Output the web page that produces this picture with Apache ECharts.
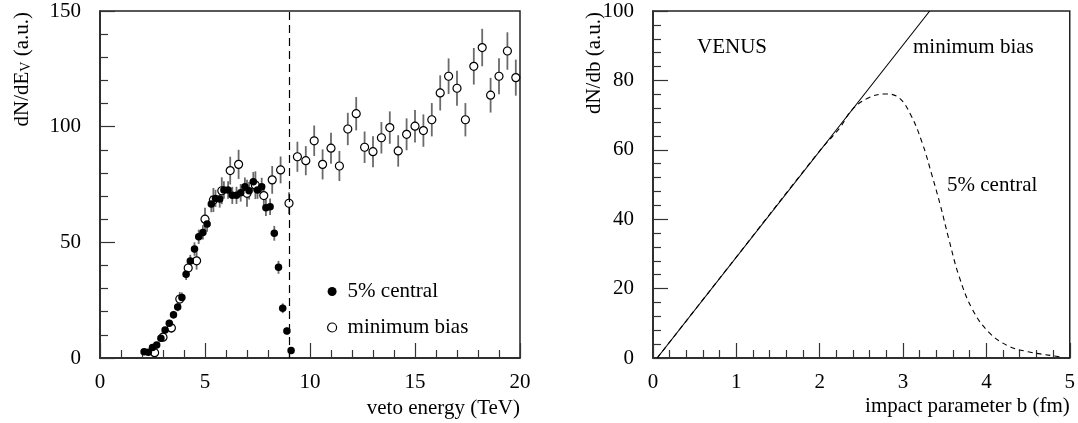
<!DOCTYPE html>
<html><head><meta charset="utf-8">
<script src="https://cdn.jsdelivr.net/npm/echarts@6/dist/echarts.min.js"></script>
<style>html,body{margin:0;padding:0;background:#fff;}#c{width:1078px;height:423px;}</style>
</head><body><div id="c"></div>
<script>
// ---- Left panel data: veto energy spectra ----
const centralE = [2.1,2.3,2.5,2.7,2.9,3.1,3.3,3.5,3.7,3.9,4.1,4.3,4.5,4.7,4.9,5.1,5.3,5.5,5.7,5.9,6.1,6.3,6.5,6.7,6.9,7.1,7.3,7.5,7.7,7.9,8.1,8.3,8.5,8.7,8.9,9.1];
const centralV = [2.7,2.5,4.5,5.6,8.5,12.1,15.0,18.7,22.1,26.2,36.2,41.9,47.1,52.4,54.3,57.9,66.6,69.0,68.7,72.6,72.6,70.3,70.3,71.4,74.0,72.3,76.2,72.6,74.0,65.0,65.4,53.9,39.2,21.5,11.7,3.2];
const centralErr = [0.6,0.6,0.8,0.9,1.1,1.3,1.5,1.7,1.9,2.1,2.5,2.7,2.9,3.1,3.1,3.3,3.6,3.7,3.7,3.8,3.8,3.7,3.7,3.8,4.0,3.8,4.2,3.8,3.9,3.6,3.6,3.2,2.8,2.1,1.5,0.8];

const minBiasE = [2.6,3.0,3.4,3.8,4.2,4.6,5.0,5.4,5.8,6.2,6.6,7.0,7.4,7.8,8.2,8.6,9.0,9.4,9.8,10.2,10.6,11.0,11.4,11.8,12.2,12.6,13.0,13.4,13.8,14.2,14.6,15.0,15.4,15.8,16.2,16.6,17.0,17.4,17.8,18.2,18.6,19.0,19.4,19.8];
const minBiasV = [2.3,9.0,13.0,25.5,38.9,42.0,60.0,68.3,72.3,81.0,83.7,71.2,74.7,70.2,77.0,81.3,66.9,87.0,85.3,93.9,83.7,90.7,83.0,99.0,105.6,91.1,89.2,95.2,99.6,89.5,96.7,100.2,98.3,103.0,114.6,121.8,116.6,103.0,126.1,134.2,113.6,121.8,132.7,121.2];
const minBiasErr = [1.0,1.8,2.2,3.0,3.6,3.8,5.0,5.2,5.8,6.0,6.3,5.8,6.0,5.0,6.0,5.8,4.7,6.5,6.3,6.6,6.5,6.7,6.5,7.0,7.2,6.8,6.7,6.8,7.0,6.8,6.9,7.0,7.0,7.2,7.6,7.7,7.6,7.2,7.9,8.1,7.5,7.8,8.1,7.8];

const cutEnergy = 9;
const leftXTicks = [0, 20, 5];   // min, max, interval
const leftYTicks = [0, 150, 50];

// ---- Right panel data: VENUS impact-parameter distributions ----
const mbB = [0.05, 3.32];
const mbY = [0, 100];
const cenB = [0.05,1.0,2.0,2.24,2.39,2.59,2.79,2.95,3.09,3.23,3.35,3.45,3.55,3.67,3.83,4.03,4.26,4.5,4.78,4.9];
const cenY = [0,29.1,59.7,66.3,71.6,75.0,76.1,75.0,70.2,62.0,52.4,43.8,34.2,23.7,14.1,7.4,3.5,1.8,0.7,0.3];
const rightXTicks = [0, 5, 1];
const rightYTicks = [0, 100, 20];

const FONT = 'Liberation Serif';
const chart = echarts.init(document.getElementById('c'), null, {renderer: 'canvas'});

function zip(a, b, c) { return a.map((v, i) => c ? [v, b[i], c[i]] : [v, b[i]]); }

function errBars(xi, yi, data) {
  return {
    type: 'custom', xAxisIndex: xi, yAxisIndex: yi, z: 1, silent: true,
    data: data,
    renderItem: function (params, api) {
      const x = api.value(0), y = api.value(1), e = api.value(2);
      const p1 = api.coord([x, y + e]);
      const p2 = api.coord([x, Math.max(0, y - e)]);
      return {type: 'line', shape: {x1: p1[0], y1: p1[1], x2: p2[0], y2: p2[1]},
              style: {stroke: '#6a6a6a', lineWidth: 1.8}};
    }
  };
}

const axisCommon = {
  axisLine: {show: true, onZero: false, lineStyle: {color: '#222', width: 1.5}},
  axisTick: {show: true, inside: true, length: 15, lineStyle: {color: '#333', width: 1.2}},
  minorTick: {show: true, splitNumber: 5, length: 8, lineStyle: {color: '#333', width: 1.2}},
  splitLine: {show: false},
  axisLabel: {color: '#000', fontFamily: FONT, fontSize: 21},
};

const option = {
  animation: false,
  backgroundColor: '#fff',
  grid: [
    {left: 100, top: 11, width: 420, height: 347, show: true, borderColor: '#222', borderWidth: 1.5, backgroundColor: 'transparent'},
    {left: 653, top: 11, width: 419, height: 347, show: true, borderColor: '#222', borderWidth: 1.5, backgroundColor: 'transparent'}
  ],
  xAxis: [
    Object.assign({}, axisCommon, {type: 'value', gridIndex: 0, min: leftXTicks[0], max: leftXTicks[1], interval: leftXTicks[2],
      axisLabel: Object.assign({}, axisCommon.axisLabel, {margin: 14}),
      name: 'veto energy (TeV)', nameLocation: 'end', nameGap: 0,
      nameTextStyle: {fontFamily: FONT, fontSize: 21, color: '#000', align: 'right', verticalAlign: 'top', padding: [40, 0, 0, 0]}}),
    Object.assign({}, axisCommon, {type: 'value', gridIndex: 1, min: rightXTicks[0], max: rightXTicks[1], interval: rightXTicks[2],
      axisLabel: Object.assign({}, axisCommon.axisLabel, {margin: 14}),
      name: 'impact parameter b (fm)', nameLocation: 'end', nameGap: 0,
      nameTextStyle: {fontFamily: FONT, fontSize: 21, color: '#000', align: 'right', verticalAlign: 'top', padding: [38, 0, 0, 0]}})
  ],
  yAxis: [
    Object.assign({}, axisCommon, {type: 'value', gridIndex: 0, min: leftYTicks[0], max: leftYTicks[1], interval: leftYTicks[2],
      axisLabel: Object.assign({}, axisCommon.axisLabel, {margin: 19})}),
    Object.assign({}, axisCommon, {type: 'value', gridIndex: 1, min: rightYTicks[0], max: rightYTicks[1], interval: rightYTicks[2],
      axisLabel: Object.assign({}, axisCommon.axisLabel, {margin: 19})})
  ],
  legend: {
    left: 322, top: 276, orient: 'vertical', itemGap: 15, itemWidth: 9, itemHeight: 9,
    data: [
      {name: '5% central', icon: 'circle', itemStyle: {color: '#000'}},
      {name: 'minimum bias', icon: 'circle', itemStyle: {color: '#fff', borderColor: '#000', borderWidth: 1.2}}
    ],
    textStyle: {fontFamily: FONT, fontSize: 21, color: '#000', padding: [0, 0, 0, 6]}
  },
  graphic: [
    {type: 'text', x: 22, y: 12, rotation: Math.PI / 2,
     style: {text: 'dN/dE{s|V} (a.u.)', fontFamily: FONT, fontSize: 21, fill: '#000', align: 'right', verticalAlign: 'middle',
       rich: {s: {fontFamily: FONT, fontSize: 14, fill: '#000', verticalAlign: 'bottom', padding: [8, 0, 0, 0]}}}},
    {type: 'text', x: 594, y: 12, rotation: Math.PI / 2,
     style: {text: 'dN/db (a.u.)', fontFamily: FONT, fontSize: 21, fill: '#000', align: 'right', verticalAlign: 'middle'}},
    {type: 'text', x: 697, y: 47, style: {text: 'VENUS', fontFamily: FONT, fontSize: 21, fill: '#000', verticalAlign: 'middle'}},
    {type: 'text', x: 913, y: 47, style: {text: 'minimum bias', fontFamily: FONT, fontSize: 21, fill: '#000', verticalAlign: 'middle'}},
    {type: 'text', x: 947, y: 185, style: {text: '5% central', fontFamily: FONT, fontSize: 21, fill: '#000', verticalAlign: 'middle'}}
  ],
  series: [
    errBars(0, 0, zip(minBiasE, minBiasV, minBiasErr)),
    errBars(0, 0, zip(centralE, centralV, centralErr)),
    {name: 'minimum bias', type: 'scatter', xAxisIndex: 0, yAxisIndex: 0, z: 3, symbol: 'circle', symbolSize: 8,
     itemStyle: {color: '#fff', borderColor: '#000', borderWidth: 1.2, opacity: 1},
     data: zip(minBiasE, minBiasV),
     markLine: {silent: true, symbol: ['none', 'none'], label: {show: false},
       lineStyle: {color: '#000', type: [8, 5], width: 1.2}, data: [{xAxis: cutEnergy}]}},
    {name: '5% central', type: 'scatter', xAxisIndex: 0, yAxisIndex: 0, z: 4, symbol: 'circle', symbolSize: 7.5,
     itemStyle: {color: '#000', opacity: 1},
     data: zip(centralE, centralV)},
    {name: 'VENUS minimum bias', type: 'line', xAxisIndex: 1, yAxisIndex: 1, showSymbol: false, z: 3,
     lineStyle: {color: '#000', width: 1.1}, data: zip(mbB, mbY)},
    {name: 'VENUS 5% central', type: 'line', xAxisIndex: 1, yAxisIndex: 1, showSymbol: false, smooth: 0.4, z: 3,
     lineStyle: {color: '#000', width: 1.1, type: [5, 4]}, data: zip(cenB, cenY)}
  ]
};
chart.setOption(option);
</script>
</body></html>
